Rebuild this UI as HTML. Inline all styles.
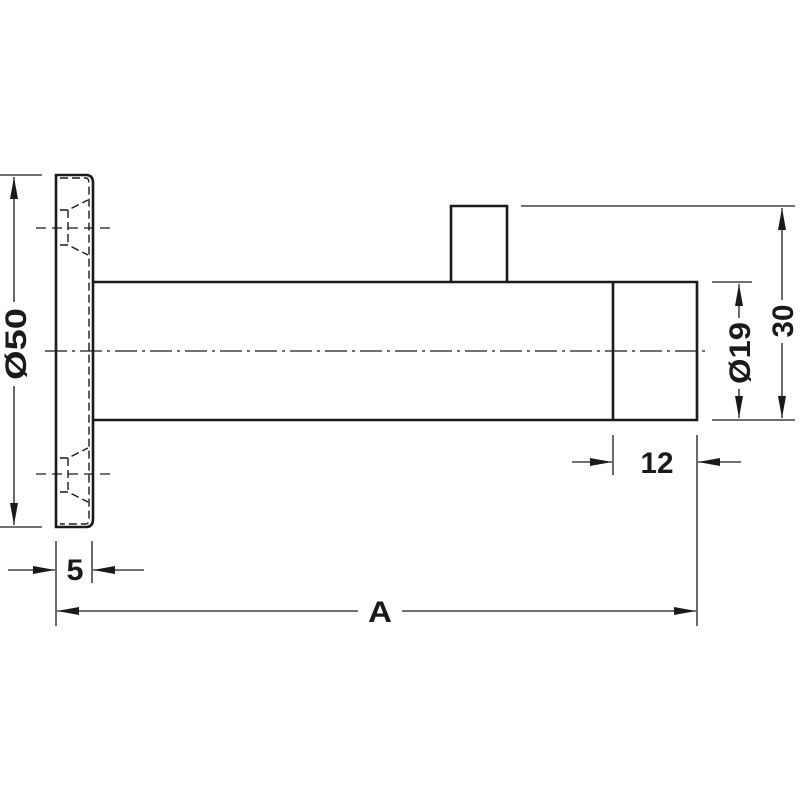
<!DOCTYPE html>
<html><head><meta charset="utf-8"><style>html,body{margin:0;padding:0;background:#fff}</style></head>
<body>
<svg width="800" height="800" viewBox="0 0 800 800" xmlns="http://www.w3.org/2000/svg">
<defs>
<marker id="a" viewBox="0 0 22 8" refX="22" refY="4" markerWidth="22" markerHeight="8" markerUnits="userSpaceOnUse" orient="auto"><path d="M0,0 L22,4 L0,8 Z" fill="#1a1a1a"/></marker>
</defs>
<g stroke="#1a1a1a" fill="none" stroke-width="2.6">
<path d="M56,175 H86 Q93,175 93,183 V519 Q93,527 86,527 H56 Z"/>
<path d="M93,282 H697 V420 H93"/>
<line x1="613" y1="282" x2="613" y2="420"/>
<path d="M451,282 V206 H507 V282"/>
</g>
<g stroke="#1a1a1a" fill="none" stroke-width="1.4" stroke-dasharray="8,4">
<path d="M60,178 H86 Q89,178 89,184 V518 Q89,524 86,524 H60"/>
<path d="M60,210 L68,210 L88,200 M68,210 L68,245 M60,245 L68,245 L88,255"/>
<path d="M60,458 L68,458 L88,448 M68,458 L68,492 M60,492 L68,492 L88,502"/>
</g>
<g stroke="#1a1a1a" fill="none" stroke-width="1.3">
<line x1="36" y1="228" x2="115" y2="228" stroke-dasharray="10,6"/>
<line x1="36" y1="474" x2="115" y2="474" stroke-dasharray="10,6"/>
<line x1="45" y1="351" x2="705" y2="351" stroke-dasharray="22,5,3,5"/>
<line x1="0" y1="175" x2="42" y2="175"/>
<line x1="0" y1="527" x2="42" y2="527"/>
<line x1="521" y1="206" x2="795" y2="206"/>
<line x1="712" y1="282" x2="752" y2="282"/>
<line x1="712" y1="420" x2="795" y2="420"/>
<line x1="613" y1="435" x2="613" y2="475"/>
<line x1="697" y1="435" x2="697" y2="626"/>
<line x1="56" y1="541" x2="56" y2="626"/>
<line x1="92" y1="541" x2="92" y2="583"/>
<line x1="14" y1="302" x2="14" y2="177" marker-end="url(#a)"/>
<line x1="14" y1="386" x2="14" y2="525" marker-end="url(#a)"/>
<line x1="739" y1="318" x2="739" y2="284" marker-end="url(#a)"/>
<line x1="739" y1="389" x2="739" y2="418" marker-end="url(#a)"/>
<line x1="782" y1="300" x2="782" y2="208" marker-end="url(#a)"/>
<line x1="782" y1="343" x2="782" y2="418" marker-end="url(#a)"/>
<line x1="8" y1="570" x2="55" y2="570" marker-end="url(#a)"/>
<line x1="144" y1="570" x2="93" y2="570" marker-end="url(#a)"/>
<line x1="572" y1="462" x2="612" y2="462" marker-end="url(#a)"/>
<line x1="741" y1="462" x2="698" y2="462" marker-end="url(#a)"/>
<line x1="358" y1="611" x2="57" y2="611" marker-end="url(#a)"/>
<line x1="402" y1="611" x2="696" y2="611" marker-end="url(#a)"/>
</g>
<g font-family="Liberation Sans, sans-serif" font-weight="bold" font-size="30" fill="#1a1a1a" text-anchor="middle">
<text x="75" y="580" textLength="17" lengthAdjust="spacingAndGlyphs">5</text>
<text x="657" y="473" textLength="33" lengthAdjust="spacingAndGlyphs">12</text>
<text x="380" y="622" textLength="24" lengthAdjust="spacingAndGlyphs">A</text>
<text transform="translate(26,344) rotate(-90)" textLength="72" lengthAdjust="spacingAndGlyphs">Ø50</text>
<text transform="translate(750,353) rotate(-90)" textLength="62" lengthAdjust="spacingAndGlyphs">Ø19</text>
<text transform="translate(793,321) rotate(-90)" textLength="33" lengthAdjust="spacingAndGlyphs">30</text>
</g>
</svg>
</body></html>
